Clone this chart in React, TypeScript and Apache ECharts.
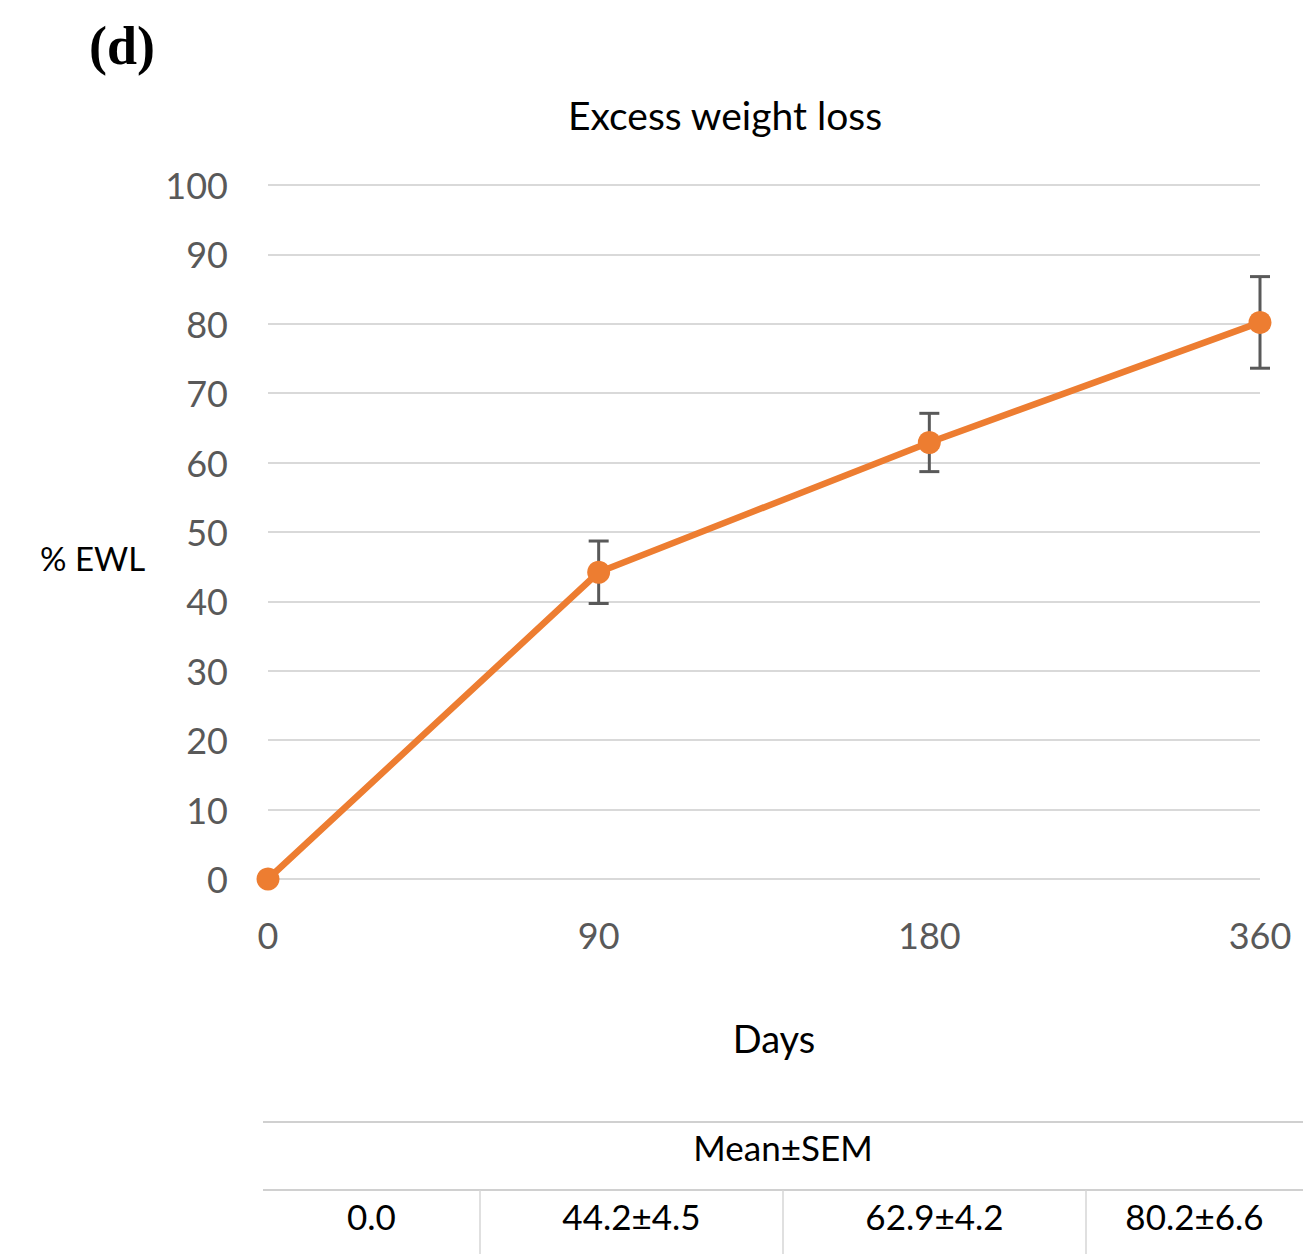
import React, { useEffect, useRef } from "react";
import * as echarts from "echarts";

const categories = ["0", "90", "180", "360"];
const means = [0, 44.2, 62.9, 80.2];
const sems = [0, 4.5, 4.2, 6.6];
const yTicks = { min: 0, max: 100, interval: 10 };
const titleText = "Excess weight loss";
const xName = "Days";
const yName = "% EWL";
const panelLabel = "(d)";
const tableHeader = "Mean±SEM";

const FONT = "Lato, 'Open Sans', sans-serif";
const ORANGE = "#ED7D31";

export default function App() {
  const ref = useRef<HTMLDivElement>(null);
  useEffect(() => {
    if (!ref.current) return;
    const chart = echarts.init(ref.current, undefined, { renderer: "svg" });
    const W = 1303;
    const gridLeft = 268;
    const gridRight = 43;
    const gridTop = 185;
    const gridBottom = 375;

    const cellEdges = [263, 480, 783, 1086, 1303];
    const tableCells = means.map((m, i) =>
      sems[i] > 0 ? `${m.toFixed(1)}±${sems[i].toFixed(1)}` : m.toFixed(1)
    );

    const graphics: any[] = [
      {
        type: "text",
        x: 89,
        y: 46,
        style: {
          text: panelLabel,
          font: "bold 54px 'Liberation Serif', 'DejaVu Serif', serif",
          fill: "#000",
          verticalAlign: "middle",
        },
      },
      {
        type: "text",
        x: 40,
        y: 558,
        style: {
          text: yName,
          font: `33px ${FONT}`,
          fill: "#000",
          verticalAlign: "middle",
        },
      },
      {
        type: "text",
        x: 774,
        y: 1038,
        style: {
          text: xName,
          font: `38px ${FONT}`,
          fill: "#000",
          align: "center",
          verticalAlign: "middle",
        },
      },
      {
        type: "line",
        shape: { x1: cellEdges[0], y1: 1122, x2: W, y2: 1122 },
        style: { stroke: "#d0d0d0", lineWidth: 2 },
      },
      {
        type: "line",
        shape: { x1: cellEdges[0], y1: 1190, x2: W, y2: 1190 },
        style: { stroke: "#d0d0d0", lineWidth: 2 },
      },
      {
        type: "text",
        x: (cellEdges[0] + W) / 2,
        y: 1147,
        style: {
          text: tableHeader,
          font: `35px ${FONT}`,
          fill: "#000",
          align: "center",
          verticalAlign: "middle",
        },
      },
    ];
    for (let i = 1; i < cellEdges.length - 1; i++) {
      graphics.push({
        type: "line",
        shape: { x1: cellEdges[i], y1: 1190, x2: cellEdges[i], y2: 1254 },
        style: { stroke: "#d6d6d6", lineWidth: 1.5 },
      });
    }
    tableCells.forEach((t, i) => {
      graphics.push({
        type: "text",
        x: (cellEdges[i] + cellEdges[i + 1]) / 2,
        y: 1216,
        style: {
          text: t,
          font: `35px ${FONT}`,
          fill: "#000",
          align: "center",
          verticalAlign: "middle",
        },
      });
    });

    chart.setOption({
      animation: false,
      backgroundColor: "#fff",
      title: {
        text: titleText,
        left: 720,
        top: 90,
        textAlign: "center",
        textStyle: { fontFamily: FONT, fontSize: 39, fontWeight: "normal", color: "#000" },
      },
      grid: { left: gridLeft, right: gridRight, top: gridTop, bottom: gridBottom },
      xAxis: {
        type: "category",
        data: categories,
        boundaryGap: false,
        axisLine: { show: false },
        axisTick: { show: false },
        splitLine: { show: false },
        axisLabel: { fontFamily: FONT, fontSize: 36, color: "#595959", margin: 38 },
      },
      yAxis: {
        type: "value",
        min: yTicks.min,
        max: yTicks.max,
        interval: yTicks.interval,
        axisLine: { show: false },
        axisTick: { show: false },
        splitLine: { lineStyle: { color: "#d9d9d9", width: 2 } },
        axisLabel: { fontFamily: FONT, fontSize: 36, color: "#595959", margin: 40 },
      },
      series: [
        {
          type: "line",
          data: means,
          symbol: "circle",
          symbolSize: 23,
          itemStyle: { color: ORANGE },
          lineStyle: { color: ORANGE, width: 6.5 },
          z: 3,
        },
        {
          type: "custom",
          data: means.map((m, i) => [i, m - sems[i], m + sems[i]]),
          z: 2,
          renderItem: (params: any, api: any) => {
            const idx = api.value(0);
            const lo = api.value(1);
            const hi = api.value(2);
            if (hi - lo <= 0) return null;
            const pLo = api.coord([idx, lo]);
            const pHi = api.coord([idx, hi]);
            const cap = 10;
            const style = { stroke: "#595959", lineWidth: 3 };
            return {
              type: "group",
              children: [
                { type: "line", shape: { x1: pLo[0], y1: pLo[1], x2: pHi[0], y2: pHi[1] }, style },
                { type: "line", shape: { x1: pHi[0] - cap, y1: pHi[1], x2: pHi[0] + cap, y2: pHi[1] }, style },
                { type: "line", shape: { x1: pLo[0] - cap, y1: pLo[1], x2: pLo[0] + cap, y2: pLo[1] }, style },
              ],
            };
          },
        },
      ],
      graphic: graphics,
    });
    return () => chart.dispose();
  }, []);
  return (
    <div
      ref={ref}
      style={{ position: "absolute", left: 0, top: 0, width: 1303, height: 1254 }}
    />
  );
}
